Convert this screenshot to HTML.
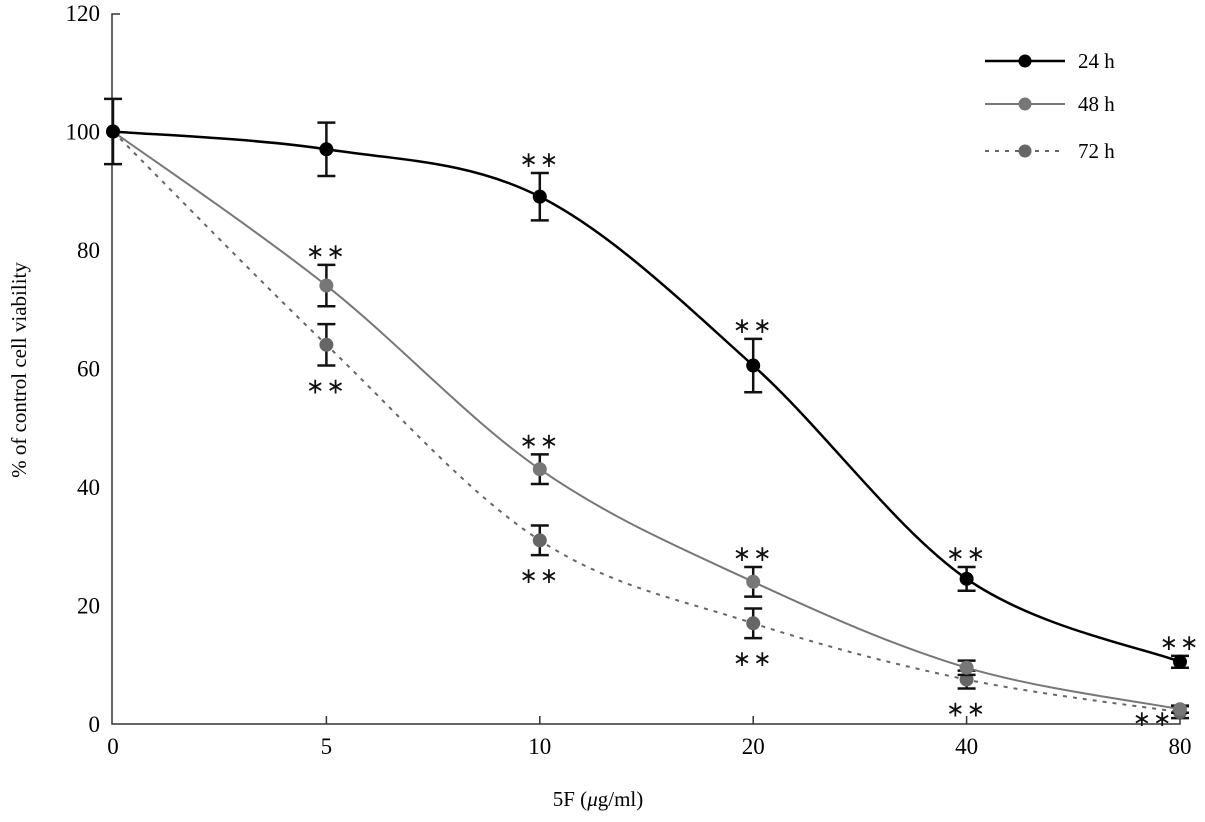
<!DOCTYPE html>
<html><head><meta charset="utf-8"><style>
body{margin:0;background:#fff}
svg{display:block;font-family:"Liberation Serif",serif}
</style></head><body>
<svg id="c" width="1205" height="822"></svg>
<script>
const categories=["0","5","10","20","40","80"];
const yTicks=[0,20,40,60,80,100,120];
const s24=[100,97,89,60.5,24.5,10.5];
const e24=[5.5,4.5,4,4.5,2,1];
const s48=[100,74,43,24,9.5,2.5];
const e48=[0,3.5,2.5,2.5,1.2,0.6];
const s72=[100,64,31,17,7.5,2];
const e72=[0,3.5,2.5,2.5,1.5,1];
const sig24=[0,0,1,1,1,1];
const sig48=[0,1,1,1,0,0];
const sig72=[0,1,1,1,1,1];
const NS="http://www.w3.org/2000/svg";
const svg=document.getElementById('c');
const X0=113,DX=213.4,Y0=724,K=5.925;
const xs=i=>X0+i*DX, ys=v=>Y0-v*K;
function el(t,a,p){const e=document.createElementNS(NS,t);for(const k in a)e.setAttribute(k,a[k]);(p||svg).appendChild(e);return e;}
let ax=el('path',{d:`M120 14 H112 V${Y0} H${xs(5)} V${Y0-6}`,fill:'none',stroke:'#333','stroke-width':1.5});


yTicks.forEach(v=>{const t=el('text',{x:100,y:ys(v)+8,'text-anchor':'end','font-size':23});t.textContent=v;

});
categories.forEach((c,i)=>{if(i>0&&i<5){const tk=el('line',{x1:xs(i),x2:xs(i),y1:Y0,y2:Y0-8,stroke:'#333','stroke-width':1.5});

}
const t=el('text',{x:xs(i),y:Y0+30,'text-anchor':'middle','font-size':23});t.textContent=c;

});
let yl=el('text',{x:26,y:370,'text-anchor':'middle','font-size':21,transform:'rotate(-90 26 370)'});yl.textContent='% of control cell viability';


let xl=el('text',{x:598,y:806,'text-anchor':'middle','font-size':21});xl.innerHTML='5F (<tspan font-style="italic">μ</tspan>g/ml)';


function curve(vals){const p=vals.map((v,i)=>[xs(i),ys(v)]);let d=`M${p[0][0]} ${p[0][1]}`;
for(let i=0;i<p.length-1;i++){const a=p[i-1]||p[i],b=p[i],c=p[i+1],e=p[i+2]||c;
d+=` C${b[0]+(c[0]-a[0])/6} ${b[1]+(c[1]-a[1])/6} ${c[0]-(e[0]-b[0])/6} ${c[1]-(e[1]-b[1])/6} ${c[0]} ${c[1]}`;}return d;}
function series(vals,errs,sig,col,w,dash,name,below){
const g=el('g',{});
const l=el('path',{d:curve(vals),fill:'none',stroke:col,'stroke-width':w,'stroke-dasharray':dash},g);


vals.forEach((v,i)=>{const x=xs(i),y=ys(v);
if(errs[i]>0){const t=ys(v+errs[i]),b=ys(v-errs[i]);
const eb=el('path',{d:`M${x} ${t}V${b}M${x-9} ${t}H${x+9}M${x-9} ${b}H${x+9}`,stroke:'#111','stroke-width':2.5,fill:'none'},g);

}
const c=el('circle',{cx:x,cy:y,r:7,fill:col},g);


if(sig[i]){let sx=x,sy=below?ys(v-errs[i])+28:ys(v+errs[i])-6;if(below&&i==5){sx=x-27;sy=Y0+2;}
const s=el('text',{x:sx,y:sy,'text-anchor':'middle','font-size':22,fill:'#111','letter-spacing':'2'},g);s.textContent='∗∗';

}});}
series(s72,e72,sig72,'#666',2,'4 6','series-72h',true);
series(s48,e48,sig48,'#777',2,'','series-48h',false);
series(s24,e24,sig24,'#000',2.5,'','series-24h',false);
[['24 h','#000',2.5,'',61],['48 h','#777',2,'',104],['72 h','#666',2,'4 6',151]].forEach(r=>{
const g=el('g',{});
el('line',{x1:985,x2:1065,y1:r[4],y2:r[4],stroke:r[1],'stroke-width':r[2],'stroke-dasharray':r[3]},g);
el('circle',{cx:1025,cy:r[4],r:6.5,fill:r[1]},g);
const t=el('text',{x:1078,y:r[4]+7,'font-size':21},g);t.textContent=r[0];});
</script>
</body></html>
